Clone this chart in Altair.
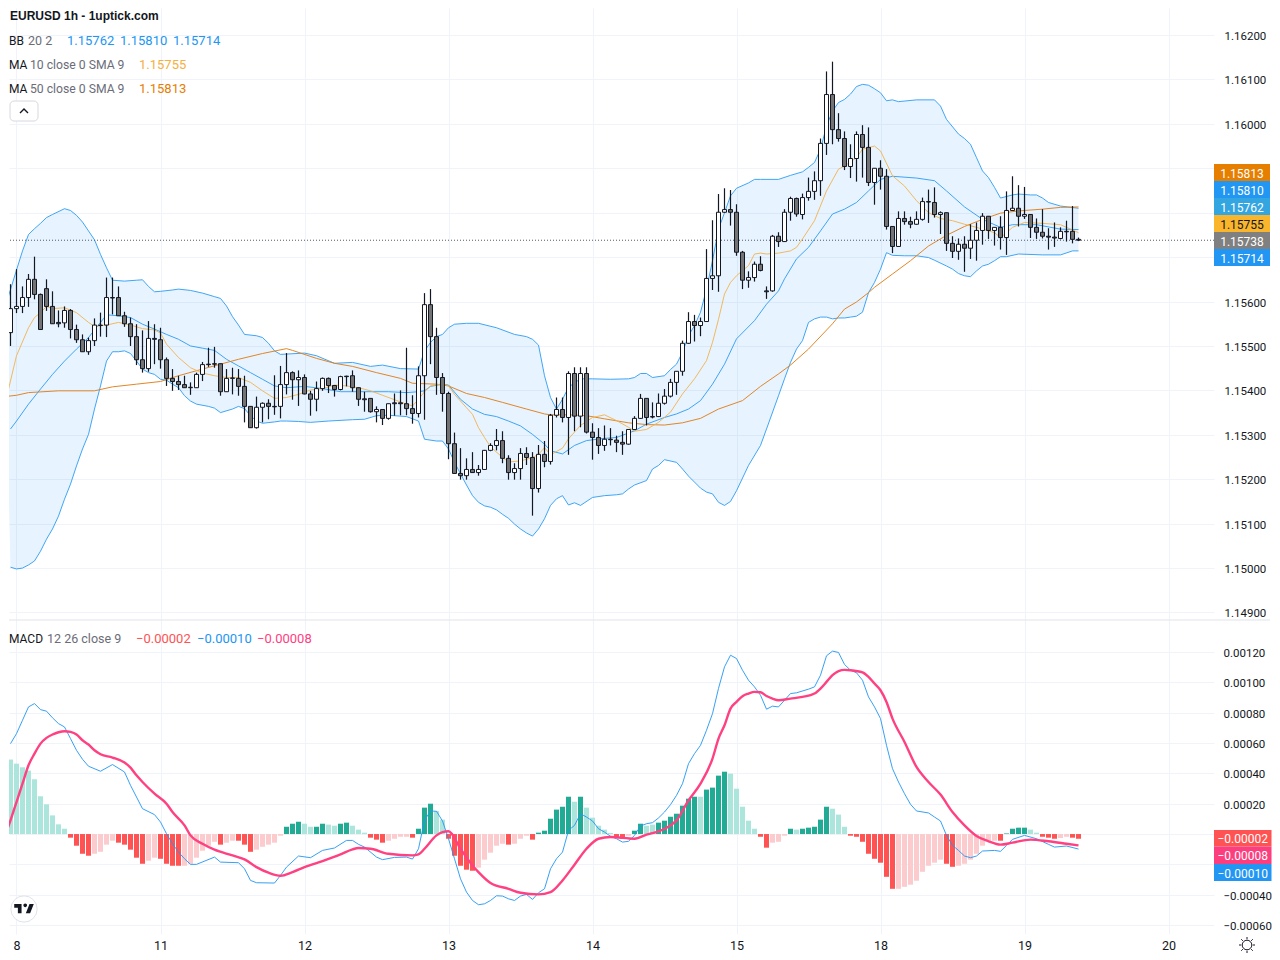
import altair as alt
import pandas as pd

# Candles, k = -1 .. 177 (hour index, 0 = the "8" label). Prices as points above 1.15000.
open_pts = [530,584,589,609,650,616,629,589,553,552,580,537,514,487,512,546,547,609,609,568,
 550,521,469,449,517,514,469,427,420,413,406,406,436,459,460,460,397,427,427,409,
 364,316,362,371,364,364,413,440,424,429,392,380,404,427,411,402,432,433,406,381,
 382,352,357,337,372,372,370,359,348,433,593,521,429,393,280,213,208,222,215,222,
 265,276,287,247,215,224,258,249,179,256,240,344,357,339,438,342,438,306,294,276,
 290,288,283,279,312,337,382,341,341,371,387,418,443,506,555,546,555,652,658,801,
 807,801,711,648,654,684,624,624,747,735,801,832,796,834,848,872,956,1066,987,967,
 904,922,976,947,868,900,882,769,724,787,780,774,785,825,823,796,800,731,713,729,
 720,738,760,792,760,767,744,805,810,792,796,767,756,747,745,742,758,758,740]
close_pts = [584,589,609,650,616,537,589,550,550,580,537,514,487,512,547,547,609,608,568,550,
 521,469,449,517,515,469,427,420,413,406,407,436,458,458,459,397,427,428,409,364,
 316,362,371,364,363,413,440,424,429,392,380,404,427,411,402,431,431,406,380,379,
 352,357,337,370,370,370,359,348,433,593,521,429,393,280,213,208,222,215,222,265,
 276,287,247,215,224,258,249,179,256,240,344,357,339,438,342,438,306,294,276,290,
 289,283,279,312,337,382,339,340,371,387,418,443,506,555,546,555,652,658,801,807,
 801,711,648,654,684,670,622,747,735,801,832,797,834,848,872,956,1066,987,967,904,
 922,976,947,868,900,882,769,724,787,780,774,785,825,824,796,800,731,713,729,720,
 738,760,792,760,767,744,805,810,792,796,767,756,747,745,743,758,757,740,738]
high_pts = [639,673,634,662,701,618,650,623,580,589,583,548,526,519,562,575,654,654,634,577,
 564,549,535,556,549,541,474,448,433,433,418,440,464,496,498,460,448,451,448,433,
 364,386,373,380,434,455,484,443,445,436,399,420,429,429,411,433,433,445,406,397,
 382,364,357,370,393,400,496,389,454,619,628,541,439,397,305,270,247,261,232,266,
 281,313,308,254,236,270,272,261,277,286,347,384,384,443,452,452,452,326,315,321,
 315,298,308,312,342,392,382,373,393,403,426,443,512,576,570,564,718,783,842,855,
 851,819,714,668,690,702,634,750,756,808,836,834,843,879,893,967,1118,1140,1024,983,
 954,983,997,992,900,918,898,769,803,803,791,803,834,852,857,803,800,747,742,747,
 774,778,799,792,767,792,848,882,862,858,796,787,808,765,778,767,782,815,744]
low_pts = [500,574,574,588,605,536,579,550,542,541,517,507,487,480,500,521,520,571,568,543,
 500,457,440,442,459,449,410,399,401,406,390,406,421,453,451,388,397,391,388,328,
 316,314,328,335,345,337,391,379,365,391,343,353,399,394,386,400,409,397,365,352,
 350,328,322,334,343,344,344,325,339,334,459,390,352,245,212,199,199,214,208,221,
 263,265,236,199,199,199,232,118,170,227,233,339,328,255,308,317,303,244,257,264,
 276,261,255,278,312,336,321,337,340,368,384,390,433,505,510,522,555,626,622,800,
 771,703,628,631,645,668,606,622,723,735,782,791,785,827,829,838,930,954,960,896,
 878,870,879,860,818,852,762,709,723,773,765,773,782,777,789,752,714,698,694,667,
 696,692,728,741,726,717,705,804,769,786,743,741,742,717,723,740,735,731,736]

# Histogram, k = -1 .. 177, in units of 0.00001; shade d = strong colour, l = pale colour
hist_pts = [49.1,46.4,44,41.8,36.1,24.9,19.6,12.3,6.4,3.5,-2.4,-7.7,-13,-14.3,-13,-11.7,-7,-4.4,-5.7,-7,
 -10.3,-15.6,-19.6,-17.6,-15.6,-16.3,-19.6,-20.9,-20.9,-20.9,-19.6,-15.6,-11,-7.7,-5.1,-7,-5.7,-4.4,-4.4,-7,
 -11.7,-10.3,-8.4,-7,-5.7,-1.1,4.8,6.8,8.1,6.8,4.8,4.8,6.8,6.2,5.5,6.8,7.5,5.5,2.9,0.9,
 -2.4,-3.7,-5.7,-4.4,-3.1,-1.8,-1.8,-2.4,3.5,17.4,20,15.2,9.5,-3.1,-14.3,-20.9,-23.5,-24.2,-22.2,-16.9,
 -12.3,-7.7,-6.4,-7,-6.4,-3.1,-1.1,-3.7,0.9,2.2,10.1,16.1,18,24.6,21.3,24.6,17.4,10.8,5.5,2.9,
 0.7,-2.4,-3.1,-1.1,2.2,6.8,5.5,6.2,7.5,8.8,11.4,13.4,18.7,23.3,24.6,24.6,29.3,30.6,38.5,41.1,
 39.8,29.9,18,8.8,3.5,-1.8,-9,-5.7,-5.1,-1.1,3.5,2.9,3.5,4.2,4.8,9.5,18,16.7,12.8,4.8,
 -1.1,-1.8,-5.1,-13,-16.3,-18.9,-28.2,-36.1,-36.1,-34.8,-33.4,-30.8,-24.9,-20.9,-18.9,-16.9,-19.6,-21.6,-20.9,-19.6,
 -16.9,-13,-7.7,-4.4,-4.4,-4.4,0.4,3.5,4.2,4.2,2.9,0.9,-1.8,-2.4,-3.1,-2.6,-1.8,-2.4,-3.1]
hist_shade = ("llllllllll" "dddd" "llll" "ddddd" "ll" "dddd" "llllll" "d" "ll" "ddd" "lllll" "ddd" "ll" "dd" "ll" "dd"
 "lll" "ddd" "llll" "d" "ddd" "ll" "ddddd" "lllll" "d" "lll" "d" "dddddd" "l" "d" "lllll" "dd" "l" "dd" "ll"
 "ddddddd" "l" "dddd" "lllll" "dd" "lll" "d" "l" "ddddd" "lll" "dddddddd" "llllllll" "dd" "lllllll" "d" "dddd"
 "ll" "ddd" "ll" "dd")

# Bollinger upper / middle / lower, moving averages: sampled at hour k, points above 1.15000
upper_k = [-2,0,1,2,3,4,5,6,8,9,10,11,12,13,14,15,16,18,20,21,22,23,24,26,27,29,31,33,34,35,36,37,38,40,41,42,43,44,48,50,53,56,59,61,64,67,68,69,70,71,72,73,75,77,80,83,85,86,87,88,89,90,91,92,93,94,96,99,102,103,104,105,106,108,109,110,111,112,113,114,115,116,117,118,119,120,122,123,124,127,129,131,132,133,134,135,136,137,138,139,140,141,142,143,144,145,146,147,150,153,154,155,157,158,159,160,161,162,163,164,166,167,169,170,171,172,174,177]
upper_p = [583,671,714,751,764,776,789,796,809,805,794,779,759,739,706,676,648,646,648,649,634,622,623,626,628,625,619,611,607,590,566,547,526,523,519,506,489,481,484,478,461,463,454,457,449,448,489,508,521,526,541,549,551,551,541,526,521,515,502,433,384,358,380,407,417,426,426,425,426,429,438,438,429,433,447,459,486,523,546,576,628,692,763,800,838,855,867,875,875,875,884,892,902,913,943,995,1029,1048,1055,1067,1084,1089,1087,1079,1070,1052,1054,1050,1054,1054,1040,1010,977,967,954,924,894,879,857,833,840,842,840,840,833,823,815,810]
middle_k = [-1,0,2,4,6,8,10,12,14,15,17,19,21,23,25,27,29,31,33,35,37,39,41,43,45,48,51,54,58,62,65,67,68,69,71,72,74,76,78,80,82,84,86,88,89,91,93,95,98,100,103,105,108,110,112,114,116,118,120,123,125,127,128,130,132,134,136,138,140,142,144,146,150,153,155,158,161,164,166,170,174,177]
middle_p = [313,331,369,403,436,466,493,519,553,570,568,564,549,538,526,515,500,495,490,470,455,440,425,410,406,409,404,397,397,397,395,397,399,409,414,412,380,358,346,341,331,320,301,279,264,257,276,287,292,294,309,324,339,347,358,377,414,459,516,557,594,624,651,696,722,759,797,808,823,849,875,882,878,872,849,813,785,767,773,773,763,762]
lower_k = [-1,0,1,2,3,4,5,6,7,8,9,10,11,12,13,14,15,16,17,18,19,20,21,22,23,24,25,26,27,28,29,30,32,33,34,36,37,38,39,40,41,43,44,45,47,49,52,56,58,60,62,65,67,68,70,71,72,73,74,75,76,77,78,79,80,81,82,83,84,85,86,87,88,89,90,91,92,93,94,96,98,100,101,102,103,105,106,107,108,110,111,112,114,115,116,117,118,119,120,122,124,125,127,128,129,130,131,132,133,134,135,136,137,138,139,140,141,142,143,144,145,146,148,150,152,153,155,156,157,158,159,160,161,162,163,164,165,167,171,174,176,177]
lower_p = [2,-2,0,7,16,38,65,88,117,155,189,230,268,301,358,410,466,487,487,489,483,466,448,440,436,425,423,414,406,388,376,369,364,360,350,358,364,359,343,331,326,329,331,331,330,328,331,334,335,343,344,341,331,290,286,286,268,238,212,187,163,148,140,137,131,121,112,99,88,79,72,88,111,141,156,163,142,147,141,159,163,165,167,178,187,197,223,231,244,238,223,207,180,171,167,148,141,150,174,231,276,313,388,426,463,493,512,553,561,565,565,561,563,563,565,567,576,620,643,673,710,704,703,703,699,693,680,673,663,658,656,669,680,684,692,701,701,707,705,705,714,714]
ma10_k = [-2,0,2,3,4,5,6,8,10,12,13,15,17,19,21,23,24,25,27,29,31,33,35,37,39,41,43,45,47,49,51,53,55,57,59,61,63,65,66,67,68,69,71,72,73,75,76,77,78,79,81,82,84,86,87,88,89,91,92,94,96,98,100,102,103,105,107,109,111,113,115,116,117,118,119,120,122,123,124,125,127,129,130,131,133,135,137,138,140,141,143,144,146,148,150,152,154,156,158,160,163,164,165,166,168,171,174,177]
ma10_p = [365,478,541,564,575,589,584,586,575,553,544,547,553,547,539,536,529,504,474,451,439,433,429,429,418,399,382,384,391,401,404,412,410,406,399,389,379,369,365,380,397,410,415,410,391,361,346,316,294,273,249,239,241,249,256,271,255,270,291,321,339,345,332,317,308,312,328,351,392,426,467,508,560,617,643,658,681,707,709,707,709,714,722,741,782,849,898,905,924,943,950,939,883,860,827,800,787,782,774,767,755,744,755,767,778,776,773,755]
ma50_k = [-2,0,2,7,13,16,20,24,27,31,34,37,41,45,46,50,53,56,60,64,66,70,72,75,78,81,85,88,89,92,95,98,102,105,108,111,114,117,121,124,127,129,132,136,138,140,142,143,146,149,152,155,158,161,164,167,171,174,177]
ma50_p = [386,389,395,399,399,408,414,420,433,448,459,470,483,494,490,472,461,454,440,427,416,414,410,393,384,373,358,347,345,345,343,336,327,323,322,327,337,358,377,409,437,457,493,550,583,599,620,632,662,692,725,749,769,785,799,804,808,812,813]

# MACD and signal, sampled at hour k, units of 0.00001
macd_k = [-1,0,1,2,3,4,5,6,7,8,9,10,11,12,14,16,18,19,20,21,23,24,25,26,27,28,29,30,33,34,37,38,39,40,43,44,45,47,49,51,53,55,56,57,58,60,61,63,65,66,67,68,69,70,71,72,73,74,75,76,77,78,79,80,81,82,83,84,85,86,87,88,89,90,91,92,93,94,95,96,97,98,99,100,101,102,103,104,105,106,107,108,109,110,111,112,113,114,115,116,117,118,119,120,121,122,123,124,125,126,127,128,129,130,132,133,134,135,136,137,138,139,140,141,142,143,144,145,146,147,148,149,150,152,153,154,155,156,157,158,159,160,161,163,164,165,166,168,170,172,173,175,177]
macd_v = [59.6,66.2,75,83.8,86,82,81,76.6,72.8,70.6,62.9,55.2,49.3,44.7,41.4,45.8,40.9,32.1,24.4,16.7,12.8,7.9,0.2,-6.4,-11.9,-16.3,-20,-20,-15.2,-18.5,-18.9,-22.9,-30.6,-32.1,-32.3,-27.3,-21.8,-14.5,-15.6,-10.8,-9.2,-4.2,-4.2,-6.8,-8.6,-15.2,-16.9,-15.4,-15.2,-16.5,-9.7,9,15.2,15,8.6,-3.1,-16.3,-29.5,-38.3,-43.8,-46.6,-46,-43.8,-40.7,-40.9,-42.7,-43.8,-40.9,-39.8,-43.1,-38.7,-36.1,-22.9,-16.3,-11.9,2.4,5.7,13.4,11.2,8.6,3.5,1.3,-1.5,-3.1,-5.3,-4.8,-0.9,5.3,6.8,7.5,10.6,14.5,19.4,25.5,33.2,46.4,53,58.5,68.4,79.4,96,110.2,117.9,115.7,108,101.4,97,91.5,82.3,84.3,83.8,88.2,92.6,93.1,95.5,97,104.7,117.5,120.6,119.7,111.8,108,106.3,101.4,90.4,83.8,76.1,58.5,43.1,34.3,26.6,19.6,15.2,13.9,11.2,8.6,-0.9,-7.5,-10.8,-14.5,-15.6,-14.5,-11.2,-10.8,-11.4,-7.5,-3.5,-0.9,-3.1,-6.8,-8.6,-7.9,-9.9]
signal_k = [-2,-1,0,1,2,3,4,5,6,7,8,9,10,11,12,13,14,16,18,19,20,21,23,25,26,28,29,31,33,36,38,40,42,44,46,48,51,54,56,57,59,62,66,67,68,70,71,72,74,76,77,79,82,84,87,89,91,93,95,97,99,103,105,107,109,110,112,114,116,117,118,119,120,121,122,123,124,125,126,127,129,131,133,134,135,136,137,138,139,141,142,143,144,145,146,148,150,152,154,156,158,160,162,164,166,169,172,175,177]
signal_v = [-2,9,21.1,33.2,45.3,53,59.6,63.4,65.6,67.1,67.8,67.3,65.6,61.8,59,55.2,52.6,50.4,47.1,43.8,38.7,34.3,26.6,20,14.5,5.7,-0.9,-6.4,-10.3,-14.1,-16.7,-21.8,-25.5,-27.5,-25.1,-21.8,-17.8,-13.4,-10.1,-9.2,-9.7,-13,-14.1,-13.4,-9.7,-0.9,1.3,1.8,-9.7,-20.7,-25.1,-32.3,-36.1,-38.7,-39.8,-38.3,-30.6,-20.2,-9.7,-3.1,-2,-3.1,-0.4,1.8,5.7,9,22.2,33.2,49.7,62.9,71.7,82.7,87.1,90.9,92.6,93.7,93.5,91,89.3,88.2,89.3,90.4,92.6,95.9,100.3,104.7,107.4,108.2,108,106.5,103.6,99.2,94.8,87.1,76.1,60.7,44.2,34.3,26,14.5,5.7,-1.3,-4.8,-7,-5.7,-3.7,-4.8,-6.4,-7.5]

day_labels = ["8", "11", "12", "13", "14", "15", "18", "19", "20"]
price_ticks = [1.149, 1.150, 1.151, 1.152, 1.153, 1.154, 1.155, 1.156, 1.157, 1.158, 1.159, 1.160, 1.161, 1.162]
macd_ticks = [-0.0006, -0.0004, -0.0002, 0, 0.0002, 0.0004, 0.0006, 0.0008, 0.001, 0.0012]
last_close = 1.15738

n = len(open_pts)
assert n == 179 and len(close_pts) == n and len(high_pts) == n and len(low_pts) == n
assert len(hist_pts) == n and len(hist_shade) == n
for a, b in [(upper_k, upper_p), (middle_k, middle_p), (lower_k, lower_p), (ma10_k, ma10_p),
             (ma50_k, ma50_p), (macd_k, macd_v), (signal_k, signal_v)]:
    assert len(a) == len(b), (len(a), len(b))

def price(p):
    return 1.15 + p * 1e-5

ks = list(range(-1, 178))
candles = pd.DataFrame({
    "k": ks,
    "open": [price(v) for v in open_pts],
    "close": [price(v) for v in close_pts],
    "high": [price(v) for v in high_pts],
    "low": [price(v) for v in low_pts],
})
candles["fill"] = ["#ffffff" if c >= o else "#737373" for o, c in zip(candles.open, candles.close)]

hcol = {"d+": "#22ab94", "l+": "#ace5dc", "d-": "#ff5252", "l-": "#fccbcd"}
hist = pd.DataFrame({"k": ks, "h": [v * 1e-5 for v in hist_pts], "zero": [0.0] * n})
hist["color"] = [hcol[s + ("+" if v >= 0 else "-")] for s, v in zip(hist_shade, hist_pts)]

def series(k, p, conv):
    return pd.DataFrame({"k": k, "v": [conv(v) for v in p]})

band = pd.DataFrame({
    "k": upper_k + lower_k[::-1],
    "v": [price(v) for v in upper_p] + [price(v) for v in lower_p[::-1]],
})
band["i"] = range(len(band))

xs = alt.Scale(domain=[-7.5 / 6, 1197.5 / 6], nice=False, zero=False, padding=0)
ys_top = alt.Scale(domain=[1.148831, 1.162608], nice=False, zero=False)
ys_bot = alt.Scale(domain=[-0.000659, 0.001411], nice=False, zero=False)
GRID = "#f0f3fa"
FONT = "Roboto"
INK = "#131722"
day_vals = [24 * i for i in range(len(day_labels))]
label_expr = "[" + ",".join(f"'{d}'" for d in day_labels) + "][datum.value/24]"

xaxis_top = alt.Axis(values=day_vals, grid=True, gridColor=GRID, labels=False, ticks=False, domain=False, title=None)
xaxis_bot = alt.Axis(values=day_vals, grid=True, gridColor=GRID, ticks=False, domain=False, title=None,
                     labelExpr=label_expr, labelFont=FONT, labelFontSize=12.5, labelColor=INK, labelPadding=5,
                     labelAngle=0, labelFlush=False, labelOverlap=False)
# Ticks that sit fully behind the price tags keep their grid line but print no label, as in the reference.
yaxis_top = alt.Axis(values=price_ticks, orient="right", grid=True, gridColor=GRID, ticks=False, domain=False,
                     title=None, labelExpr="inrange(datum.value,[1.1565,1.1585])?'':format(datum.value,'.5f')",
                     labelFont=FONT, labelFontSize=11.5, labelColor=INK, labelPadding=10, labelOffset=1.5,
                     labelOverlap=False, labelBaseline="middle")
yaxis_bot = alt.Axis(values=macd_ticks, orient="right", grid=True, gridColor=GRID, ticks=False, domain=False,
                     title=None, labelExpr="inrange(datum.value,[-0.00025,-0.00015])?'':replace(format(datum.value,'.5f'),'-','\u2212')",
                     labelFont=FONT, labelFontSize=11.5, labelColor=INK, labelPadding=9, labelOffset=1.5, labelOverlap=False)

DUMMY = alt.Data(values=[{"a": 1}])

def text(s, px, py, color=INK, size=13, weight="normal", font=FONT, align="left"):
    return alt.Chart(DUMMY).mark_text(align=align, baseline="middle", color=color, fontSize=size,
                                      fontWeight=weight, font=font, clip=False).encode(
        x=alt.value(px), y=alt.value(py + 1), text=alt.value(s))

def tag(px0, px1, py0, py1, fill, s, color="#ffffff"):
    box = alt.Chart(DUMMY).mark_rect(color=fill, clip=False).encode(
        x=alt.value(px0), x2=alt.value(px1), y=alt.value(py0), y2=alt.value(py1))
    return [box, text(s, (px0 + px1) / 2, (py0 + py1) / 2, color=color, size=12, align="center")]

# ---------- top panel ----------
TX, TY = 9, 9
def tp(x, y):
    return x - TX, y - TY

X_T = alt.X("k:Q", scale=xs, axis=xaxis_top)

def price_line(df, color, opacity=1.0, width=1.0):
    return alt.Chart(df).mark_line(color=color, strokeWidth=width, opacity=opacity, clip=True).encode(
        x=X_T, y=alt.Y("v:Q", scale=ys_top, axis=yaxis_top))

top_layers = [
    alt.Chart(band).mark_line(stroke=None, fill="#2196f3", fillOpacity=0.11, clip=True).encode(
        x=X_T, y=alt.Y("v:Q", scale=ys_top, axis=yaxis_top), order="i:Q"),
    price_line(series(upper_k, upper_p, price), "#2196f3", 0.85),
    price_line(series(lower_k, lower_p, price), "#2196f3", 0.85),
    price_line(series(middle_k, middle_p, price), "#2196f3", 0.85),
    price_line(series(ma50_k, ma50_p, price), "#e0801a", 0.95),
    price_line(series(ma10_k, ma10_p, price), "#f2b24c", 0.9),
    alt.Chart(DUMMY).mark_rule(color="#555b66", strokeDash=[1, 2], strokeWidth=1).encode(
        y=alt.datum(last_close, scale=ys_top, axis=yaxis_top)),
    alt.Chart(candles).mark_rule(color=INK, strokeWidth=1.2, clip=True).encode(
        x=X_T, y=alt.Y("low:Q", scale=ys_top, axis=yaxis_top), y2="high:Q"),
    alt.Chart(candles).mark_bar(size=4, stroke=INK, strokeWidth=1, clip=True).encode(
        x=X_T, y=alt.Y("open:Q", scale=ys_top, axis=yaxis_top), y2="close:Q",
        color=alt.Color("fill:N", scale=None, legend=None)),
]

a = top_layers.append
a(text("EURUSD 1h - 1uptick.com", *tp(10, 15.5), size=12, weight="bold", font="Liberation Sans"))
BLUE, GRAY = "#2196f3", "#6a6d78"
a(text("BB", *tp(9, 41), size=12))
a(text("20 2", *tp(28, 41), color=GRAY, size=12.5))
for s, x in [("1.15762", 67), ("1.15810", 120), ("1.15714", 173)]:
    a(text(s, *tp(x, 41), color=BLUE))
a(text("MA", *tp(9, 65), size=12))
a(text("10 close 0 SMA 9", *tp(30, 65), color=GRAY, size=12.2))
a(text("1.15755", *tp(139, 65), color="#f5b041"))
a(text("MA", *tp(9, 89), size=12))
a(text("50 close 0 SMA 9", *tp(30, 89), color=GRAY, size=12.2))
a(text("1.15813", *tp(139, 89), color="#e67e00"))
bx0, by0 = tp(10, 102)
bx1, by1 = tp(38, 122)
a(alt.Chart(DUMMY).mark_rect(fill="#ffffff", stroke="#d6d8de", strokeWidth=1, cornerRadius=4, clip=False).encode(
    x=alt.value(bx0), x2=alt.value(bx1), y=alt.value(by0), y2=alt.value(by1)))
cx, cy = tp(24, 112)
a(alt.Chart(DUMMY).mark_point(shape="M-1 .5L0 -.5L1 .5", size=64, stroke=INK, strokeWidth=1.4, fill=None, opacity=1, clip=False).encode(
    x=alt.value(cx), y=alt.value(cy)))
for (y0, y1, fill, s, col) in [(165, 182, "#e67e00", "1.15813", "#ffffff"), (182, 199, "#2196f3", "1.15810", "#ffffff"),
                               (199, 216, "#33a5e0", "1.15762", "#ffffff"), (216, 233, "#f9b52c", "1.15755", INK),
                               (233, 250, "#808080", "1.15738", "#ffffff"), (250, 267, "#2196f3", "1.15714", "#ffffff")]:
    x0, yy0 = tp(1214, y0)
    x1, yy1 = tp(1270, y1)
    top_layers += tag(x0, x1, yy0, yy1, fill, s, col)

top = alt.layer(*top_layers).properties(width=1205, height=612)

# ---------- bottom panel ----------
BX, BY = 9, 621
def bp(x, y):
    return x - BX, y - BY

X_B = alt.X("k:Q", scale=xs, axis=xaxis_bot)

def macd_line(df, color, width=1.0, interp="linear", opacity=1.0):
    return alt.Chart(df).mark_line(color=color, strokeWidth=width, interpolate=interp, opacity=opacity, clip=True).encode(
        x=X_B, y=alt.Y("v:Q", scale=ys_bot, axis=yaxis_bot))

def conv_m(v):
    return v * 1e-5

bot_layers = [
    alt.Chart(hist).mark_bar(size=5, clip=True).encode(
        x=X_B, y=alt.Y("h:Q", scale=ys_bot, axis=yaxis_bot), y2="zero:Q",
        color=alt.Color("color:N", scale=None, legend=None)),
    macd_line(series(macd_k, macd_v, conv_m), "#2196f3", 1.0, opacity=0.9),
    macd_line(series(signal_k, signal_v, conv_m), "#ff4081", 2.4, "monotone"),
    alt.Chart(DUMMY).mark_rule(color="#e0e3eb", strokeWidth=1).encode(
        x=alt.value(0), x2=alt.value(1261), y=alt.value(0)),
]
b = bot_layers.append
b(text("MACD", *bp(9, 639), size=12))
b(text("12 26 close 9", *bp(47, 639), color=GRAY, size=12.5))
for s, x, c in [("\u22120.00002", 136, "#ff5252"), ("\u22120.00010", 197, "#2196f3"), ("\u22120.00008", 257, "#ff4081")]:
    b(text(s, *bp(x, 639), color=c))
for (y0, y1, fill, s) in [(831, 847.5, "#ff5252", "\u22120.00002"), (847.5, 865, "#fc3d7e", "\u22120.00008"),
                          (865, 882, "#2196f3", "\u22120.00010")]:
    x0, yy0 = bp(1214, y0)
    x1, yy1 = bp(1271.5, y1)
    bot_layers += tag(x0, x1, yy0, yy1, fill, s)
lx, ly = bp(24, 910)
b(alt.Chart(DUMMY).mark_point(shape="circle", size=690, fill="#ffffff", stroke="#e0e3eb", strokeWidth=1, opacity=1, clip=False).encode(
    x=alt.value(lx), y=alt.value(ly)))
b(alt.Chart(DUMMY).mark_point(
    shape="M-.222 -.444L-.889 -.444L-.889 -.111L-.556 -.111L-.556 .389L-.222 .389Z"
          "M.556 .389L.167 .389L.5 -.444L.889 -.444Z"
          "M-.056 -.333a.167 .167 0 1 0 .334 0a.167 .167 0 1 0 -.334 0Z",
    size=484, fill=INK, stroke=None, opacity=1, filled=True, clip=False).encode(x=alt.value(lx), y=alt.value(ly)))
sx, sy = bp(1247, 946)
b(alt.Chart(DUMMY).mark_point(
    shape="M.6 0a.6 .6 0 1 0 -1.2 0a.6 .6 0 1 0 1.2 0Z"
          "M0 -1L0 -.72M0 1L0 .72M-1 0L-.72 0M1 0L.72 0M-.72 -.72L-.52 -.52M.72 .72L.52 .52M-.72 .72L-.52 .52M.72 -.72L.52 -.52",
    size=256, stroke=INK, strokeWidth=1, fill=None, opacity=1, clip=False).encode(x=alt.value(sx), y=alt.value(sy)))

bottom = alt.layer(*bot_layers).properties(width=1205, height=314)

chart = (alt.vconcat(top, bottom, spacing=0, bounds="flush")
         .resolve_scale(x="independent", y="independent")
         .properties(padding=0, background="#ffffff")
         .configure_view(stroke=None))
chart.save("out.html", embed_options={"renderer": "svg", "actions": False})
